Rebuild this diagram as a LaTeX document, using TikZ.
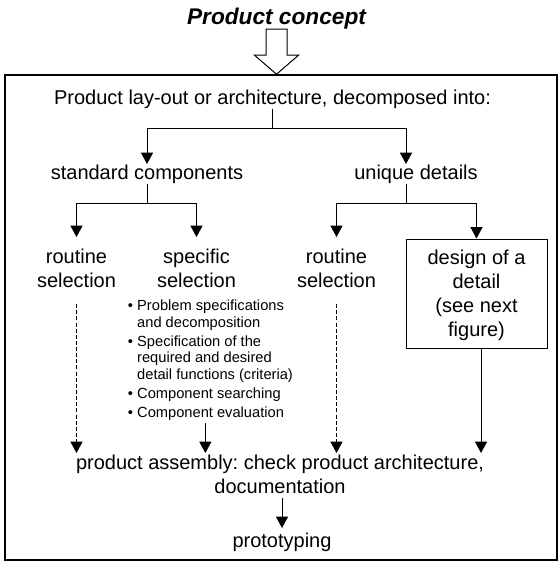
\documentclass[tikz,border=0pt]{standalone}
\usepackage{fontspec}
\setmainfont{Liberation Sans}
\usetikzlibrary{arrows.meta}
\frenchspacing
\begin{document}
\begin{tikzpicture}[x=0.75pt, y=-0.75pt, >={Triangle[length=8.5pt,width=9pt]}, line width=0.75pt,
  txt/.style={inner sep=0pt, font=\fontsize{15}{18}\selectfont, align=center},
  lvl/.style={txt, anchor=north, inner ysep=8.8pt},
  dsh/.style={dash pattern=on 3pt off 1.6pt}]
\useasboundingbox (0,0) rectangle (558,561);
% tieu de va mui ten rong
\node[anchor=base, inner sep=0pt, font=\fontsize{17}{20}\selectfont\bfseries\itshape] (ttl) at (276.5,24) {Product concept};
\draw (ttl.south) ++(-10.5,0) -- ++(21,0) -- ++(0,26) -- ++(11.5,0) -- ++(-22,19) -- ++(-22,-19) -- ++(11.5,0) -- cycle;
\draw[line width=1pt] (5,75) rectangle (557,560);
% tang 1
\node[txt, anchor=base] (lay) at (272.5,104) {Product lay-out or architecture, decomposed into:};
\node[txt, anchor=base] (std) at (147,179) {standard components};
\node[txt, anchor=base] (uni) at (416,179) {unique details};
\draw[->] (lay.south) -- ++(0,20) coordinate (k1) -| (std.north);
\draw[->] (k1) -| ([xshift=-7.5pt]uni.north);
% tang 2
\node[lvl] (rs1) at (76.5,237) {routine\\selection};
\node[lvl] (spc) at (196.5,237) {specific\\selection};
\node[lvl] (rs2) at (336.5,237) {routine\\selection};
\node[draw, txt, text depth=0pt, minimum width=105.75pt, minimum height=81.75pt, anchor=north] (dsg) at (476.5,238.5) {design of a\\detail\\(see next\\figure)};
\draw[->] (std.south) -- ++(0,20) coordinate (k2) -| (rs1.north);
\draw[->] (k2) -| (spc.north);
\draw[->] ([xshift=-7.5pt]uni.south) -- ++(0,20) coordinate (k3) -| (rs2.north);
\draw[->] (k3) -| (dsg.north);
% cac buoc chon
\node[anchor=north west, inner sep=0pt, font=\fontsize{11}{12.5}\selectfont] (lst) at (127.3,298.3) {%
\begin{tabular}{@{}l@{\hspace{3.2pt}}l@{}}
\textbullet & Problem specifications\\
 & and decomposition\\[1.8pt]
\textbullet & Specification of the\\
 & required and desired\\
 & detail functions (criteria)\\[1.8pt]
\textbullet & Component searching\\[1.8pt]
\textbullet & Component evaluation
\end{tabular}};
% tang 3
\node[txt, anchor=north, inner ysep=1pt] (asm) at (280,453) {product assembly: check product architecture,\\documentation};
\node[txt, anchor=north, inner ysep=3.3pt] (pro) at (282,528) {prototyping};
\draw[->, shorten <=2pt] (pro |- asm.south) -- (pro.north);
% mui ten vao lap rap
\foreach \n in {rs1,rs2}
\draw[dsh, ->, shorten <=3pt] (\n.south) -- (\n.south |- asm.north);
\coordinate (e1) at ([xshift=-3.75pt]lst.south);
\coordinate (e2) at ([xshift=3.4pt]dsg.south);
\foreach \e in {e1,e2}
\draw[->] (\e) -- (\e |- asm.north);
\end{tikzpicture}
\end{document}
